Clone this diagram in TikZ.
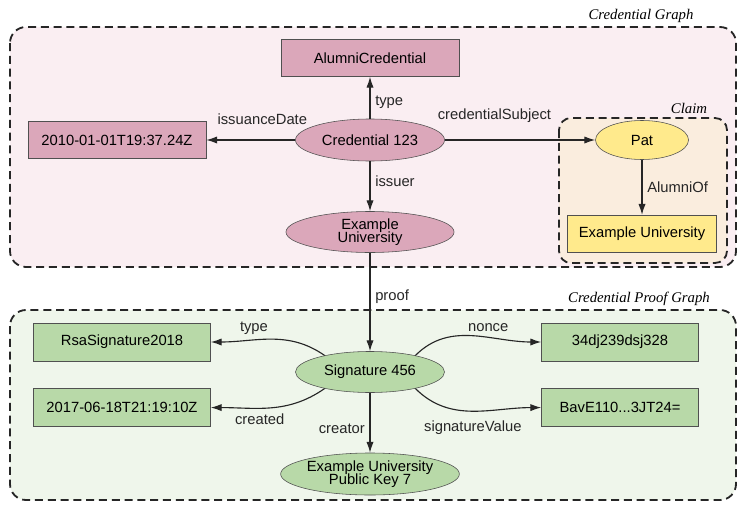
\documentclass[tikz,border=0pt]{standalone}
\usepackage{fontspec}
\setmainfont{Liberation Sans}
\newfontfamily\grpfont{Liberation Serif}
\usetikzlibrary{arrows.meta,positioning,shapes.geometric}

\definecolor{credfill}{RGB}{219,167,186}
\definecolor{credbg}{RGB}{250,238,242}
\definecolor{claimfill}{RGB}{255,234,140}
\definecolor{claimbg}{RGB}{250,237,222}
\definecolor{prooffill}{RGB}{184,217,168}
\definecolor{proofbg}{RGB}{239,246,235}
\definecolor{edgegray}{RGB}{80,80,80}

\newcommand\reslines{\fontsize{10.5}{9.4}\selectfont\setlength\lineskiplimit{-10pt}}

\begin{document}
\begin{tikzpicture}[
  x=0.025cm, y=0.025cm,
  font=\fontsize{10.5}{12}\selectfont,
  node distance=0.675cm and 0,
  lit/.style={draw=edgegray, fill=credfill, minimum height=0.925cm, inner sep=2pt},
  res/.style={ellipse, draw=edgegray, fill=credfill, inner sep=0pt, align=center, font=\reslines},
  grp/.style={draw=black!85, dash pattern=on 0.2cm off 0.12cm, line width=1.3pt, rounded corners=0.4cm},
  grptitle/.style={font=\grpfont\itshape\fontsize{10.5}{12}\selectfont},
  rel/.style={-{Latex[length=2.7mm,width=1.8mm]}, line width=0.8pt, black!85}
]
  \useasboundingbox (0,0) rectangle (748,-512);

  % graph boxes
  \draw[grp, fill=credbg] (10,-27) rectangle (736,-267);
  \node[grptitle] (cg-title) at (641,-16) {Credential Graph};
  \draw[grp, fill=claimbg, rounded corners=0.3cm] (559,-118) rectangle (727,-263);
  \node[grptitle] (claim-title) at (689,-108) {Claim};
  \draw[grp, fill=proofbg] (10,-310) rectangle (736,-500);
  \node[grptitle] (pg-title) at (639,-299) {Credential Proof Graph};

  % credential
  \node[lit, minimum width=4.45cm] (ctype) at (370,-58) {AlumniCredential};
  \node[res, minimum width=3.725cm, minimum height=1.05cm] (cred) at (370,-140) {Credential 123};
  \node[lit, minimum width=4.45cm] (cdate) at (117,-140) {2010-01-01T19:37.24Z};
  \node[res, minimum width=4.2cm, minimum height=1.025cm] (issuer) at (370,-232) {Example\\University};

  % claim
  \node[res, fill=claimfill, minimum width=2.325cm, minimum height=0.975cm] (pat) at (642,-140) {Pat};
  \node[lit, fill=claimfill, minimum width=3.725cm, below=1.375cm of pat] (school) {Example University};

  % proof
  \node[res, fill=prooffill, minimum width=3.725cm, minimum height=1.025cm] (sig) at (370,-372) {Signature 456};
  \node[lit, fill=prooffill, minimum width=4.425cm, minimum height=0.95cm] (sigtype) at (122,-342) {RsaSignature2018};
  \node[lit, fill=prooffill, minimum width=4.425cm, minimum height=0.95cm, below=of sigtype] (created) {2017-06-18T21:19:10Z};
  \node[lit, fill=prooffill, minimum width=3.925cm, minimum height=0.95cm] (nonce) at (620,-342) {34dj239dsj328};
  \node[lit, fill=prooffill, minimum width=3.925cm, minimum height=0.95cm, below=of nonce] (sigval) {BavE110...3JT24=};
  \node[res, fill=prooffill, minimum width=4.2cm, minimum height=1.05cm] (pubkey) at (370,-474) {Example University\\Public Key 7};

  \draw[rel] (cred) -- node[right, pos=0.4] (l-type) {type} (ctype);
  \draw[rel] (cred) -- node[above=7pt, pos=0.37] (l-date) {issuanceDate} (cdate);
  \draw[rel] (cred) -- node[above=9pt, pos=0.33] (l-subject) {credentialSubject} (pat);
  \draw[rel] (cred) -- node[right, pos=0.4] (l-issuer) {issuer} (issuer);
  \draw[rel] (pat) -- node[right] (l-alumni) {AlumniOf} (school);
  \draw[rel] (issuer) -- node[right, pos=0.45] (l-proof) {proof} (sig);
  \draw[rel] (sig.160) to[out=145,in=0] node[above, pos=0.65] (l-sigtype) {type} (sigtype.east);
  \draw[rel] (sig.200) to[out=215,in=0] node[below, pos=0.6] (l-created) {created} (created.east);
  \draw[rel] (sig.20) to[out=45,in=180] node[above, pos=0.62] (l-nonce) {nonce} (nonce.west);
  \draw[rel] (sig.340) to[out=315,in=180] node[below=3pt, pos=0.5] (l-sigval) {signatureValue} (sigval.west);
  \draw[rel] (sig) -- node[left, pos=0.6] (l-creator) {creator} (pubkey);
\end{tikzpicture}
\end{document}
